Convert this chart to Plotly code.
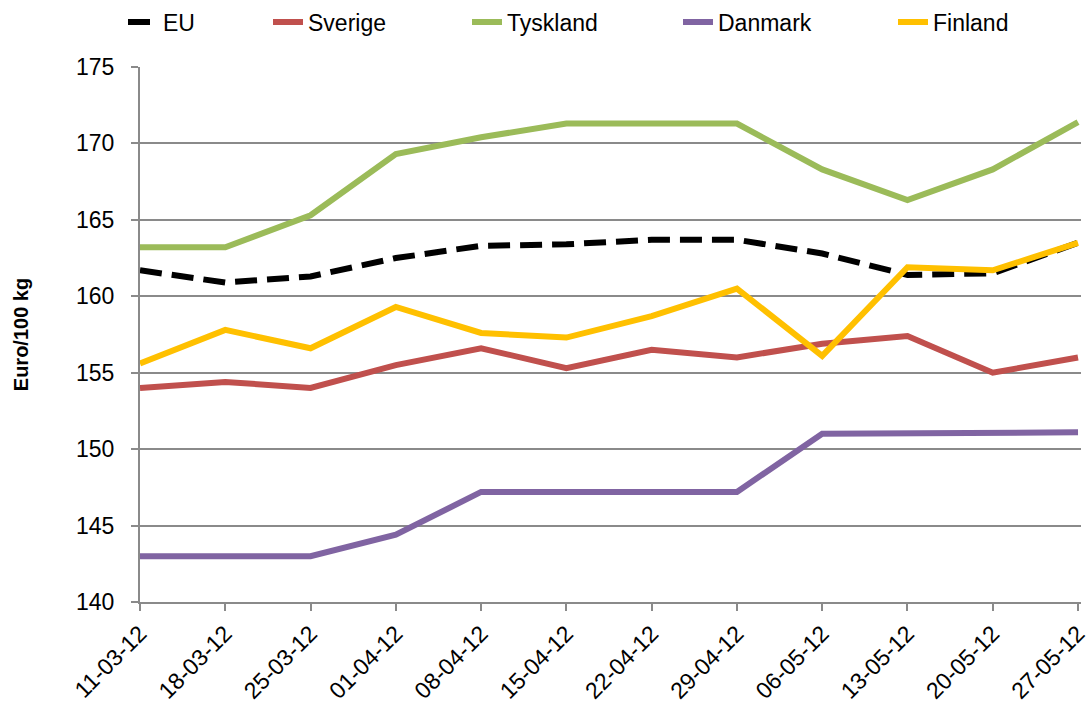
import plotly.graph_objects as go

dates = ["11-03-12", "18-03-12", "25-03-12", "01-04-12", "08-04-12", "15-04-12",
         "22-04-12", "29-04-12", "06-05-12", "13-05-12", "20-05-12", "27-05-12"]
eu = [161.7, 160.9, 161.3, 162.5, 163.3, 163.4, 163.7, 163.7, 162.8, 161.4, 161.5, 163.5]
sverige = [154.0, 154.4, 154.0, 155.5, 156.6, 155.3, 156.5, 156.0, 156.9, 157.4, 155.0, 156.0]
tyskland = [163.2, 163.2, 165.3, 169.3, 170.4, 171.3, 171.3, 171.3, 168.3, 166.3, 168.3, 171.4]
danmark = [143.0, 143.0, 143.0, 144.4, 147.2, 147.2, 147.2, 147.2, 151.0, 151.05, 151.1, 151.1]
finland = [155.6, 157.8, 156.6, 159.3, 157.6, 157.3, 158.7, 160.5, 156.1, 161.9, 161.7, 163.5]

series = [
    ("EU", eu, "#000000", "22px,10px"),
    ("Sverige", sverige, "#C0504D", "solid"),
    ("Tyskland", tyskland, "#9BBB59", "solid"),
    ("Danmark", danmark, "#8064A2", "solid"),
    ("Finland", finland, "#FFC000", "solid"),
]

FONT = "Liberation Sans, Arial, sans-serif"
GRAY = "#8a8a8a"

L, R, T, B = 140, 11, 67, 102
W, H = 1092, 704
pw = W - L - R
ph = H - T - B

# legend text start positions (px) in reference
text_starts = [163, 308, 507, 718, 933]

xs = list(range(len(dates)))
fig = go.Figure()
layout_legends = {}
for i, (name, vals, color, dash) in enumerate(series):
    lname = "legend" if i == 0 else f"legend{i+1}"
    fig.add_trace(go.Scatter(
        x=xs, y=vals, mode="lines", name=name,
        line=dict(color=color, width=6, dash=dash),
        legend=lname,
    ))
    left_px = text_starts[i] - 40
    layout_legends[lname] = dict(
        x=(left_px - L) / pw, xanchor="left",
        y=1 + (T - 22) / ph, yanchor="middle",
        orientation="h",
        font=dict(family=FONT, size=23, color="#000000"),
        bgcolor="rgba(0,0,0,0)",
        borderwidth=0,
    )

fig.update_layout(
    width=W, height=H,
    margin=dict(l=L, r=R, t=T, b=B, autoexpand=False),
    paper_bgcolor="white", plot_bgcolor="white",
    font=dict(family=FONT, size=23, color="#000000"),
    showlegend=True,
    **layout_legends,
)

fig.update_xaxes(
    range=[0, 11.035],
    tickmode="array", tickvals=xs, ticktext=dates,
    tickangle=-45,
    ticks="outside", ticklen=7, tickwidth=2, tickcolor=GRAY,
    showline=True, linecolor=GRAY, linewidth=2,
    showgrid=False, zeroline=False, automargin=False,
    tickfont=dict(family=FONT, size=23, color="#000000"),
)
fig.update_yaxes(
    range=[140, 175], dtick=5, tick0=140,
    ticks="outside", ticklen=7, tickwidth=2, tickcolor=GRAY,
    showline=True, linecolor=GRAY, linewidth=2,
    showgrid=True, gridcolor=GRAY, gridwidth=2,
    zeroline=False, automargin=False,
    ticklabelstandoff=12,
    tickfont=dict(family=FONT, size=23, color="#000000"),
    title=dict(text="<b>Euro/100 kg</b>", font=dict(family=FONT, size=20, color="#000000"), standoff=42),
)

fig.write_html(
    "out.html",
    config={"displayModeBar": False},
    post_script="document.body.style.margin='0';document.body.style.overflow='hidden';",
)
